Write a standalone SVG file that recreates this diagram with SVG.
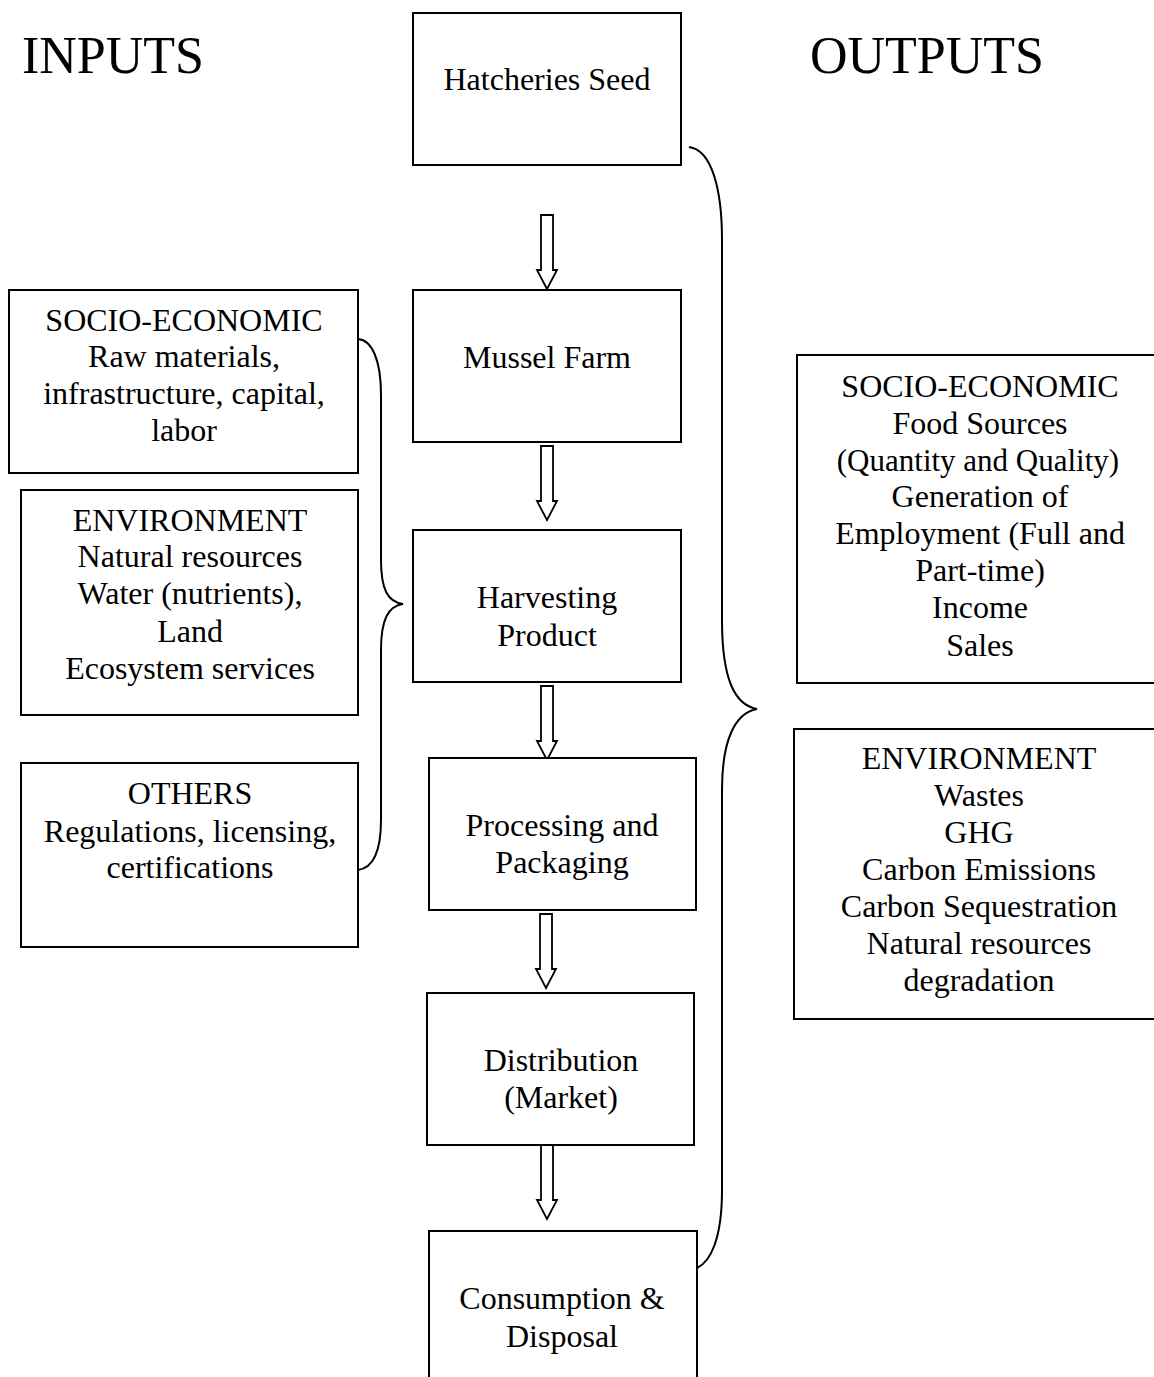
<svg xmlns="http://www.w3.org/2000/svg" width="1154" height="1377" viewBox="0 0 1154 1377">
<style>
.box{fill:#fff;stroke:#000;stroke-width:2}
.t{font-family:"Liberation Serif","Times New Roman",serif;font-size:32px;fill:#000;text-anchor:middle}
.big{font-family:"Liberation Serif","Times New Roman",serif;font-size:52px;fill:#000}
.arrow{fill:#fff;stroke:#000;stroke-width:1.8;stroke-linejoin:miter}
.brace{fill:none;stroke:#000;stroke-width:2}
</style>
<defs>
<path id="harrow" class="arrow" d="M-6,0 H6 V55 H10 L0,74 L-10,55 H-6 Z"/>
</defs>
<rect width="1154" height="1377" fill="#fff"/>
<text class="big" x="22" y="73">INPUTS</text>
<text class="big" x="810" y="73">OUTPUTS</text>

<g id="connectors">
<use href="#harrow" transform="translate(547,215)"/>
<use href="#harrow" transform="translate(547,446)"/>
<use href="#harrow" transform="translate(547,686)"/>
<use href="#harrow" transform="translate(546,914)"/>
<use href="#harrow" transform="translate(547,1145)"/>
<path class="brace" d="M689,147 C712,150 722,190 722,240 V620 C722,680 735,705 757,709 C735,713 722,740 722,790 V1190 C722,1240 710,1262 697,1268"/>
<path class="brace" d="M358,339 C372,340 381,360 381,395 V560 C381,590 388,602 403,604 C388,606 381,620 381,650 V820 C381,855 372,868 358,870"/>
</g>

<g id="hatcheries">
<rect class="box" x="413" y="13" width="268" height="152"/>
<text class="t" x="547" y="90">Hatcheries Seed</text>
</g>
<g id="mussel-farm">
<rect class="box" x="413" y="290" width="268" height="152"/>
<text class="t" x="547" y="368">Mussel Farm</text>
</g>
<g id="harvesting">
<rect class="box" x="413" y="530" width="268" height="152"/>
<text class="t" x="547" y="608">Harvesting</text>
<text class="t" x="547" y="646">Product</text>
</g>
<g id="processing">
<rect class="box" x="429" y="758" width="267" height="152"/>
<text class="t" x="562" y="836">Processing and</text>
<text class="t" x="562" y="873">Packaging</text>
</g>
<g id="distribution">
<rect class="box" x="427" y="993" width="267" height="152"/>
<text class="t" x="561" y="1071">Distribution</text>
<text class="t" x="561" y="1108">(Market)</text>
</g>
<g id="consumption">
<rect class="box" x="429" y="1231" width="268" height="160"/>
<text class="t" x="562" y="1309">Consumption &amp;</text>
<text class="t" x="562" y="1347">Disposal</text>
</g>

<g id="in-socio">
<rect class="box" x="9" y="290" width="349" height="183"/>
<text class="t" x="184" y="331">SOCIO-ECONOMIC</text>
<text class="t" x="184" y="367">Raw materials,</text>
<text class="t" x="184" y="404">infrastructure, capital,</text>
<text class="t" x="184" y="441">labor</text>
</g>
<g id="in-env">
<rect class="box" x="21" y="490" width="337" height="225"/>
<text class="t" x="190" y="531">ENVIRONMENT</text>
<text class="t" x="190" y="567">Natural resources</text>
<text class="t" x="190" y="604">Water (nutrients),</text>
<text class="t" x="190" y="642">Land</text>
<text class="t" x="190" y="679">Ecosystem services</text>
</g>
<g id="in-others">
<rect class="box" x="21" y="763" width="337" height="184"/>
<text class="t" x="190" y="804">OTHERS</text>
<text class="t" x="190" y="842">Regulations, licensing,</text>
<text class="t" x="190" y="878">certifications</text>
</g>

<g id="out-socio">
<rect class="box" x="797" y="355" width="370" height="328"/>
<text class="t" x="980" y="397">SOCIO-ECONOMIC</text>
<text class="t" x="980" y="434">Food Sources</text>
<text class="t" x="978" y="471" style="font-size:31px">(Quantity and Quality)</text>
<text class="t" x="980" y="507">Generation of</text>
<text class="t" x="980" y="544">Employment (Full and</text>
<text class="t" x="980" y="581">Part-time)</text>
<text class="t" x="980" y="618">Income</text>
<text class="t" x="980" y="656">Sales</text>
</g>
<g id="out-env">
<rect class="box" x="794" y="729" width="373" height="290"/>
<text class="t" x="979" y="769">ENVIRONMENT</text>
<text class="t" x="979" y="806">Wastes</text>
<text class="t" x="979" y="843">GHG</text>
<text class="t" x="979" y="880">Carbon Emissions</text>
<text class="t" x="979" y="917">Carbon Sequestration</text>
<text class="t" x="979" y="954">Natural resources</text>
<text class="t" x="979" y="991">degradation</text>
</g>
</svg>
